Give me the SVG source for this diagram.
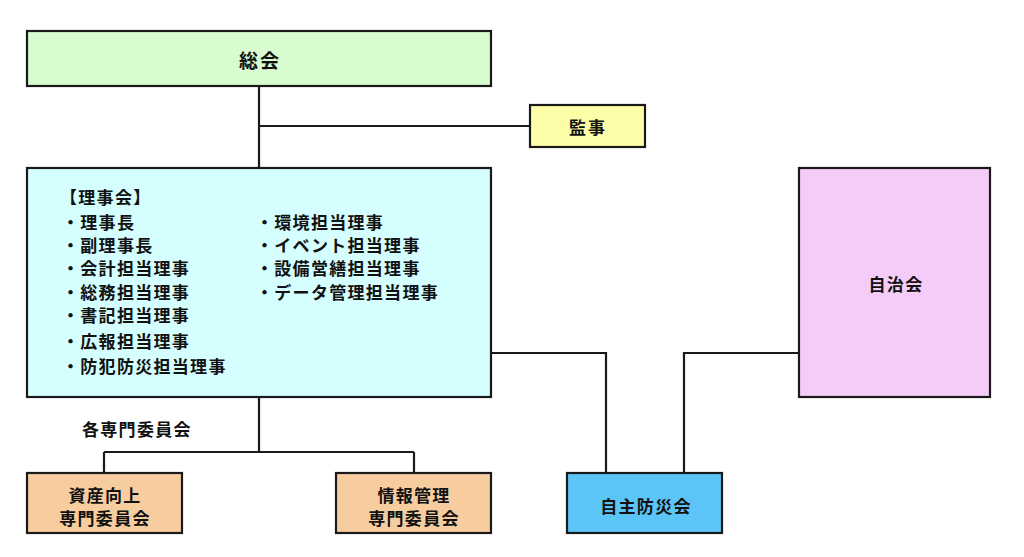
<svg xmlns="http://www.w3.org/2000/svg" width="1024" height="557" viewBox="0 0 1024 557">
<style>
.box{stroke:#1a1a1a;stroke-width:2.2}
.conn{fill:none;stroke:#1a1a1a;stroke-width:2.2}
text{font-family:"Noto Sans CJK JP","Noto Sans",sans-serif;font-weight:bold;fill:#111;font-size:17px;letter-spacing:1.3px}
.c{text-anchor:middle;dominant-baseline:central}
</style>
<rect width="1024" height="557" fill="#ffffff"/>
<g id="connectors">
<path class="conn" d="M259 86V168M259 126H530"/>
<path class="conn" d="M259 397V452M104 452H414M104 452V473M414 452V473"/>
<path class="conn" d="M491 353H606V473"/>
<path class="conn" d="M799 353H684V473"/>
</g>
<g id="soukai">
<rect class="box" x="27" y="31" width="464" height="55" fill="#d8fcd0"/>
<text class="c" x="260" y="59" style="font-size:19px;letter-spacing:2px">総会</text>
</g>
<g id="kanji">
<rect class="box" x="530" y="105" width="115" height="42" fill="#fefea8"/>
<text class="c" x="588" y="126" style="letter-spacing:2px">監事</text>
</g>
<g id="rijikai">
<rect class="box" x="27" y="168" width="464" height="229" fill="#d5fefe"/>
<text x="60" y="204">【理事会】</text>
<text x="62" y="229">・理事長</text>
<text x="62" y="252">・副理事長</text>
<text x="62" y="275">・会計担当理事</text>
<text x="62" y="299">・総務担当理事</text>
<text x="62" y="322">・書記担当理事</text>
<text x="62" y="348">・広報担当理事</text>
<text x="62" y="373">・防犯防災担当理事</text>
<text x="256" y="229">・環境担当理事</text>
<text x="256" y="252">・イベント担当理事</text>
<text x="256" y="275">・設備営繕担当理事</text>
<text x="256" y="299">・データ管理担当理事</text>
</g>
<g id="jichikai">
<rect class="box" x="799" y="168" width="191" height="229" fill="#f5ccf8"/>
<text class="c" x="896" y="283">自治会</text>
</g>
<g id="label-senmon">
<text x="82" y="436">各専門委員会</text>
</g>
<g id="shisan">
<rect class="box" x="27" y="473" width="155" height="60" fill="#f7cda0"/>
<text class="c" x="105" y="494">資産向上</text>
<text class="c" x="105" y="517">専門委員会</text>
</g>
<g id="jouhou">
<rect class="box" x="336" y="473" width="155" height="60" fill="#f7cda0"/>
<text class="c" x="414" y="494">情報管理</text>
<text class="c" x="414" y="517">専門委員会</text>
</g>
<g id="jishubousai">
<rect class="box" x="567" y="473" width="155" height="60" fill="#5bc5f7"/>
<text class="c" x="646" y="505">自主防災会</text>
</g>
</svg>
